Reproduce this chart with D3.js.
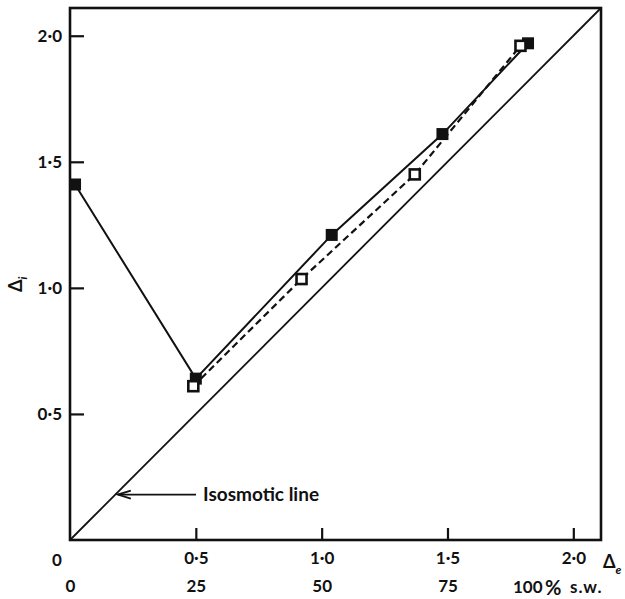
<!DOCTYPE html>
<html>
<head>
<meta charset="utf-8">
<script src="https://cdn.jsdelivr.net/npm/d3@7"></script>
<style>
  body { margin: 0; background: #fff; }
  svg text { font-family: Lato, "Open Sans", sans-serif; fill: #111; font-weight: bold; }
</style>
</head>
<body>
<svg id="chart"></svg>
<script>
var width = 625;
var height = 599;

// filled squares, joined by the solid line
var filledX = [0.02, 0.50, 1.04, 1.48, 1.82];
var filledY = [1.41, 0.64, 1.21, 1.61, 1.97];
// open squares, joined by the dashed line
var openX = [0.49, 0.92, 1.37, 1.79];
var openY = [0.61, 1.035, 1.45, 1.96];
// isosmotic line (Δi = Δe)
var isoX = [0, 2.11];
var isoY = [0, 2.11];

var xTicks = [0.5, 1.0, 1.5, 2.0];
var yTicks = [0.5, 1.0, 1.5, 2.0];
var pctTicks = [0, 25, 50, 75];

var svg = d3.select("#chart").attr("width", width).attr("height", height);

var x = d3.scaleLinear().domain([0, 2.11]).range([70, 601]);
var y = d3.scaleLinear().domain([0, 2.11]).range([540, 8]);
// % sea water scale: 100% s.w. = Δe 2.0
var xPct = d3.scaleLinear().domain([0, 105.5]).range([70, 601]);

var fmt = function(d) { return d3.format(".1f")(d).replace(".", "\u00b7"); };
var fs = "17px";

// frame
svg.append("rect")
    .attr("x", 70).attr("y", 8)
    .attr("width", 531).attr("height", 532)
    .attr("fill", "none")
    .attr("stroke", "#111")
    .attr("stroke-width", 2.6);

// axes with inward ticks
var xAxis = svg.append("g")
    .attr("transform", "translate(0,540)")
    .call(d3.axisBottom(x).tickValues(xTicks).tickSizeInner(-12).tickSizeOuter(0).tickPadding(12).tickFormat(fmt));
var yAxis = svg.append("g")
    .attr("transform", "translate(70,0)")
    .call(d3.axisLeft(y).tickValues(yTicks).tickSizeInner(-14).tickSizeOuter(0).tickPadding(8).tickFormat(fmt));
[xAxis, yAxis].forEach(function(a) {
    a.select(".domain").remove();
    a.selectAll(".tick line").attr("stroke", "#111").attr("stroke-width", 2.2);
    a.selectAll(".tick text").style("font-size", fs).attr("fill", "#111");
});

// first-row zero label
svg.append("text")
    .attr("x", 57).attr("y", 566)
    .attr("text-anchor", "middle")
    .style("font-size", fs)
    .text("0");

// Δe label
var de = svg.append("text").attr("x", 603).attr("y", 568).style("font-size", "18px");
de.append("tspan").text("\u0394");
de.append("tspan").attr("dy", 6).style("font-size", "12px").style("font-style", "italic").text("e");

// % s.w. row
var pctAxis = svg.append("g")
    .attr("transform", "translate(0,540)")
    .call(d3.axisBottom(xPct).tickValues(pctTicks).tickSize(0).tickPadding(40).tickFormat(d3.format("d")));
pctAxis.select(".domain").remove();
pctAxis.selectAll(".tick text").style("font-size", fs).attr("fill", "#111");
var sw = svg.append("text").attr("x", 513).attr("y", 593).style("font-size", fs);
sw.append("tspan").text("100");
sw.append("tspan").attr("x", 545).attr("dy", 2).style("font-size", "20px").text("%");
sw.append("tspan").attr("x", 570).attr("dy", -2).style("letter-spacing", "1px").text("s.w.");

// Δi label
var di = svg.append("text")
    .attr("transform", "translate(22,292) rotate(-90)")
    .style("font-size", "18px");
di.append("tspan").text("\u0394");
di.append("tspan").attr("dy", 5).style("font-size", "12px").style("font-style", "italic").text("i");

var line = d3.line().x(function(d) { return x(d[0]); }).y(function(d) { return y(d[1]); });

// isosmotic line
svg.append("path")
    .datum(d3.zip(isoX, isoY))
    .attr("d", line)
    .attr("fill", "none").attr("stroke", "#111").attr("stroke-width", 1.8);

// solid line through filled points
svg.append("path")
    .datum(d3.zip(filledX, filledY))
    .attr("d", line)
    .attr("fill", "none").attr("stroke", "#111").attr("stroke-width", 2);

// dashed line through open points
svg.append("path")
    .datum(d3.zip(openX, openY))
    .attr("d", line)
    .attr("fill", "none").attr("stroke", "#111").attr("stroke-width", 2.2)
    .attr("stroke-dasharray", "7,4");

var s = 12;
svg.selectAll(".filled").data(d3.zip(filledX, filledY)).enter()
    .append("rect").attr("class", "filled")
    .attr("x", function(d) { return x(d[0]) - s / 2; })
    .attr("y", function(d) { return y(d[1]) - s / 2; })
    .attr("width", s).attr("height", s)
    .attr("fill", "#111");

svg.selectAll(".open").data(d3.zip(openX, openY)).enter()
    .append("rect").attr("class", "open")
    .attr("x", function(d) { return x(d[0]) - (s - 2) / 2; })
    .attr("y", function(d) { return y(d[1]) - (s - 2) / 2; })
    .attr("width", s - 2).attr("height", s - 2)
    .attr("fill", "#fff").attr("stroke", "#111").attr("stroke-width", 2.6);

// annotation
var arrowY = y(0.18);
svg.append("line")
    .attr("x1", x(0.19)).attr("y1", arrowY)
    .attr("x2", 196).attr("y2", arrowY)
    .attr("stroke", "#111").attr("stroke-width", 1.8);
svg.append("path")
    .attr("d", d3.line()([[x(0.19) + 13, arrowY - 4], [x(0.19), arrowY], [x(0.19) + 13, arrowY + 4]]))
    .attr("fill", "none").attr("stroke", "#111").attr("stroke-width", 1.8);
svg.append("text")
    .attr("x", 203).attr("y", arrowY + 6)
    .style("font-size", "19px")
    .text("Isosmotic line");
</script>
</body>
</html>
